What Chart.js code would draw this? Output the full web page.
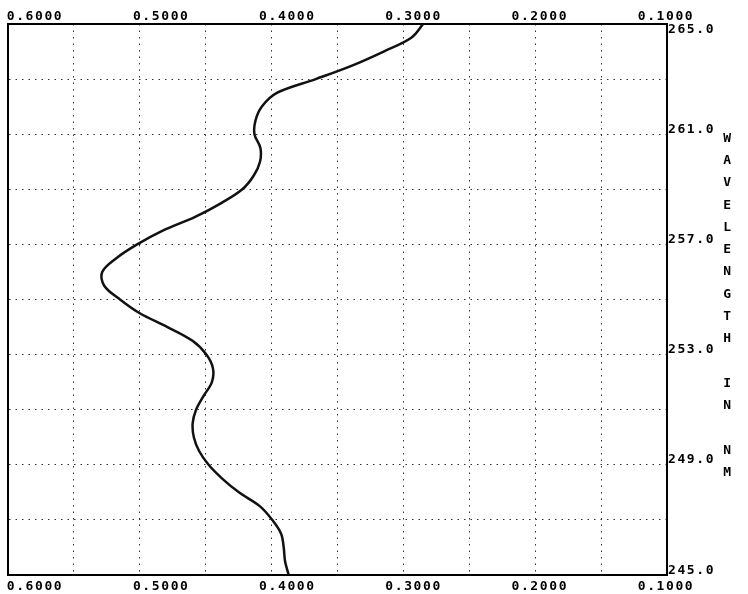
<!DOCTYPE html>
<html>
<head>
<meta charset="utf-8">
<script src="https://cdn.jsdelivr.net/npm/chart.js@4"></script>
<style>
  body { margin: 0; background: #fff; }
  canvas { display: block; }
</style>
</head>
<body>
<canvas id="grafico" width="748" height="594"></canvas>
<script>
const wavelengths = [
  245.0, 245.5, 246.0, 246.5, 247.0, 247.5, 248.0, 248.5, 249.0, 249.5,
  250.0, 250.5, 251.0, 251.5, 252.0, 252.5, 253.0, 253.5, 254.0, 254.5,
  255.0, 255.5, 256.0, 256.5, 257.0, 257.5, 258.0, 258.5, 259.0, 259.5,
  260.0, 260.5, 261.0, 261.5, 262.0, 262.5, 263.0, 263.5, 264.0, 264.5, 265.0
];
const absorbance = [
  0.3870, 0.3898, 0.3908, 0.3928, 0.3995, 0.4090, 0.4248, 0.4375, 0.4478, 0.4550,
  0.4590, 0.4599, 0.4573, 0.4516, 0.4453, 0.4445, 0.4495, 0.4600, 0.4790, 0.5000,
  0.5150, 0.5270, 0.5285, 0.5178, 0.5020, 0.4826, 0.4580, 0.4382, 0.4222, 0.4135,
  0.4088, 0.4085, 0.4130, 0.4122, 0.4075, 0.3960, 0.3665, 0.3385, 0.3150, 0.2940, 0.2850
];
const xTickValues = [0.6, 0.5, 0.4, 0.3, 0.2, 0.1];
const yTickValues = [245, 249, 253, 257, 261, 265];
const axisTitle = "WAVELENGTH IN NM";

Chart.defaults.font = { family: '"DejaVu Sans Mono", monospace', size: 13, weight: 'bold' };
Chart.defaults.color = '#000';

const gridColor = '#333';
const gridDash = [1.5, 5];

// labels sit a bit off their tick marks, like the plotter did
const labelRange = { min: 0.0992, max: 0.6214 };

const tituloVertical = {
  id: 'tituloVertical',
  beforeDraw(chart) {
    chart.ctx.letterSpacing = '1.6px';
  },
  afterDraw(chart) {
    const { ctx, chartArea } = chart;
    const meio = (chartArea.top + chartArea.bottom) / 2 + 6;
    ctx.save();
    ctx.font = 'bold 13px "DejaVu Sans Mono"';
    ctx.fillStyle = '#000';
    ctx.textAlign = 'center';
    ctx.textBaseline = 'middle';
    [...axisTitle].forEach((letra, i) => {
      ctx.fillText(letra, chartArea.right + 61, meio + (i - (axisTitle.length - 1) / 2) * 22.3);
    });
    ctx.restore();
  }
};

function eixoRotulos(posicao, tamanho, padding) {
  return {
    type: 'linear',
    position: posicao,
    reverse: true,
    min: labelRange.min,
    max: labelRange.max,
    afterBuildTicks: s => { s.ticks = xTickValues.map(v => ({ value: v })); },
    ticks: { autoSkip: false, maxRotation: 0, padding: padding, callback: v => v.toFixed(4) },
    grid: { drawOnChartArea: false, drawTicks: false },
    border: { color: '#000', width: 2 },
    afterFit: s => { s.height = tamanho; s.paddingLeft = 0; s.paddingRight = 0; }
  };
}

const pontos = absorbance.map((a, i) => ({ x: a, y: wavelengths[i] }));

new Chart(document.getElementById('grafico'), {
  type: 'line',
  data: {
    datasets: [{
      data: pontos,
      xAxisID: 'x',
      yAxisID: 'y',
      borderColor: '#111',
      borderWidth: 2.5,
      pointRadius: 0,
      tension: 0.35,
      fill: false
    }]
  },
  options: {
    responsive: false,
    animation: false,
    layout: { padding: { left: 8, right: 0, top: 0, bottom: 0 } },
    plugins: { legend: { display: false }, tooltip: { enabled: false } },
    scales: {
      x: {
        type: 'linear',
        position: 'bottom',
        reverse: true,
        min: 0.1,
        max: 0.6,
        ticks: { display: false, stepSize: 0.05 },
        grid: { color: gridColor, lineWidth: 1, drawTicks: false },
        border: { display: false, dash: gridDash },
        afterFit: s => { s.height = 0; s.paddingLeft = 0; s.paddingRight = 0; }
      },
      y: {
        type: 'linear',
        position: 'left',
        min: 245,
        max: 265,
        ticks: { display: false, stepSize: 2 },
        grid: { color: gridColor, lineWidth: 1, drawTicks: false },
        border: { color: '#000', width: 2, dash: gridDash },
        afterFit: s => { s.width = 0; s.paddingTop = 0; s.paddingBottom = 0; }
      },
      xTop: eixoRotulos('top', 24, 0),
      xBot: eixoRotulos('bottom', 19, 4),
      yLab: {
        type: 'linear',
        position: 'right',
        min: 245,
        max: 265,
        afterBuildTicks: s => {
          s.ticks = yTickValues.map(v => ({ value: v === 265 ? v - 0.22 : v + 0.17 }));
        },
        ticks: { autoSkip: false, padding: 1, callback: (v, i) => yTickValues[i].toFixed(1) },
        grid: { drawOnChartArea: false, drawTicks: false },
        border: { color: '#000', width: 2 },
        afterFit: s => { s.width = 81; s.paddingTop = 0; s.paddingBottom = 0; }
      }
    }
  },
  plugins: [tituloVertical]
});
</script>
</body>
</html>
